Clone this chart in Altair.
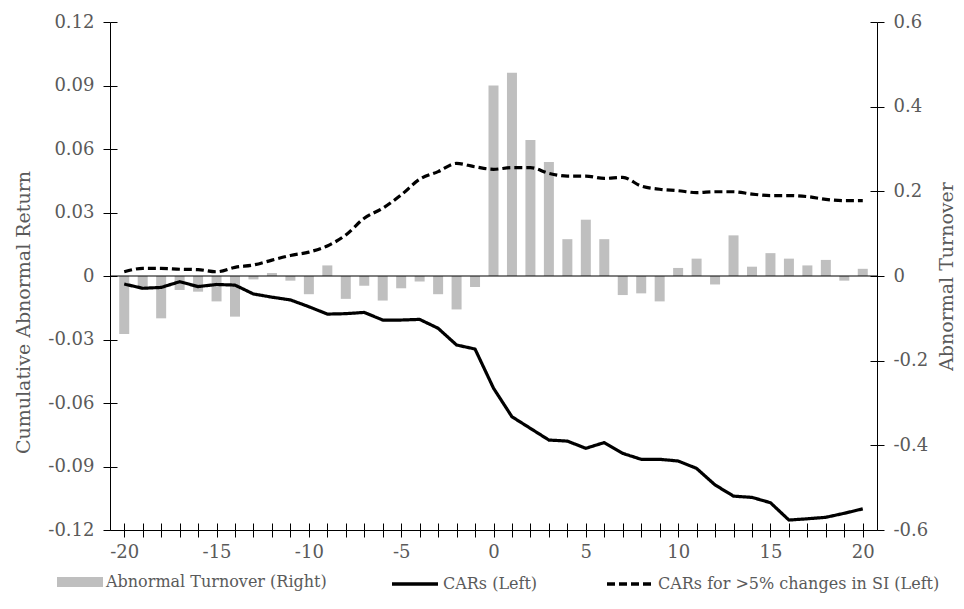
import altair as alt
import pandas as pd

days = list(range(-20, 21))

turnover = [-0.137, -0.025, -0.100, -0.033, -0.037, -0.060, -0.096, -0.008, 0.007, -0.011,
            -0.043, 0.025, -0.054, -0.023, -0.058, -0.029, -0.013, -0.043, -0.079, -0.026,
            0.450, 0.480, 0.321, 0.269, 0.087, 0.133, 0.087, -0.045, -0.041, -0.060,
            0.019, 0.041, -0.020, 0.096, 0.022, 0.054, 0.041, 0.025, 0.038, -0.011, 0.017]

car = [-0.0038, -0.0058, -0.0054, -0.0027, -0.0050, -0.0040, -0.0043, -0.0085, -0.0100, -0.0113,
       -0.0145, -0.0180, -0.0178, -0.0172, -0.0208, -0.0208, -0.0205, -0.0247, -0.0326, -0.0345,
       -0.0530, -0.0665, -0.0720, -0.0775, -0.0780, -0.0814, -0.0787, -0.0838, -0.0866, -0.0866,
       -0.0874, -0.0909, -0.0987, -0.1040, -0.1046, -0.1071, -0.1153, -0.1147, -0.1140, -0.1121, -0.1100]

car5 = [0.0020, 0.0036, 0.0036, 0.0032, 0.0030, 0.0020, 0.0041, 0.0052, 0.0075, 0.0097,
        0.0113, 0.0142, 0.0194, 0.0273, 0.0320, 0.0383, 0.0457, 0.0493, 0.0532, 0.0516,
        0.0504, 0.0512, 0.0512, 0.0485, 0.0472, 0.0472, 0.0461, 0.0466, 0.0425, 0.0410,
        0.0403, 0.0394, 0.0398, 0.0398, 0.0387, 0.0380, 0.0380, 0.0375, 0.0362, 0.0356, 0.0356]

left_ticks = [-0.12, -0.09, -0.06, -0.03, 0, 0.03, 0.06, 0.09, 0.12]
right_ticks = [-0.6, -0.4, -0.2, 0, 0.2, 0.4, 0.6]

bar_label = "Abnormal Turnover (Right)"
line_labels = ["CARs (Left)", "CARs for >5% changes in SI (Left)"]
left_title = "Cumulative Abnormal Return"
right_title = "Abnormal Turnover"

df = pd.DataFrame({"day": days, "turnover": turnover, "car": car, "car5": car5})
zero_df = pd.DataFrame({"z": [0.0]})

FONT = "DejaVu Serif"
GRAY = "#5a5a5a"
MINUS = "\u2212"

x_scale = alt.Scale(domain=[-20.5, 20.5], nice=False)
left_scale = alt.Scale(domain=[-0.12, 0.12], nice=False)
right_scale = alt.Scale(domain=[-0.6, 0.6], nice=False)

# main axes (outer half of each tick, labels, titles)
x_axis = alt.Axis(values=days, title=None, tickSize=7, labelPadding=6,
                  labelExpr="datum.value % 5 === 0 ? '' + datum.value : ''",
                  labelOverlap=False, labelFlush=False)
left_axis = alt.Axis(orient="left", values=left_ticks, title=left_title, tickSize=7,
                     labelPadding=9, titlePadding=14, titleY=290,
                     labelExpr=f"datum.value === 0 ? '0' : replace(format(datum.value, '.2f'), '{MINUS}', '-')")
right_axis = alt.Axis(orient="right", values=right_ticks, title=right_title, tickSize=7,
                      labelPadding=9, titlePadding=10, titleAngle=270, titleBaseline="top",
                      labelExpr=f"datum.value === 0 ? '0' : replace(format(datum.value, '.1f'), '{MINUS}', '-')")

# tick-only axes from the opposite side, giving the inner half of each tick
x_inner = alt.Axis(orient="top", values=days, title=None, tickSize=7, offset=-508,
                   labels=False, domain=False, grid=False)
left_inner = alt.Axis(orient="right", values=left_ticks, title=None, tickSize=7, offset=-767,
                      labels=False, domain=False)
right_inner = alt.Axis(orient="left", values=right_ticks, title=None, tickSize=7, offset=-767,
                       labels=False, domain=False)

bar_legend = alt.Legend(title=None, orient="none", legendX=-53, legendY=537,
                        symbolType="M-1,-0.22H1V0.22H-1Z", symbolSize=2116,
                        symbolStrokeWidth=0, labelOffset=3, padding=0, labelLimit=0)
line_legend = alt.Legend(title=None, orient="none", direction="horizontal",
                         legendX=280, legendY=537, symbolType="stroke", symbolSize=2116,
                         symbolStrokeWidth=3.5, symbolStrokeColor="black",
                         labelOffset=3, columnPadding=62, padding=0, labelLimit=0)

dash_scale = alt.Scale(domain=line_labels, range=[[1, 0], [8, 4]])

bars = alt.Chart(df).transform_calculate(s=f"'{bar_label}'").mark_bar(
    size=10, orient="vertical"
).encode(
    x=alt.X("day:Q", scale=x_scale, axis=x_axis),
    y=alt.Y("turnover:Q", scale=right_scale, axis=right_axis),
    y2=alt.Y2Datum(0),
    color=alt.Color("s:N", scale=alt.Scale(domain=[bar_label], range=["#bfbfbf"]),
                    legend=bar_legend),
)

zero_rule = alt.Chart(zero_df).mark_rule(color="black", strokeWidth=1).encode(
    y=alt.Y("z:Q", scale=right_scale, axis=right_inner)
)

line_car = alt.Chart(df).transform_calculate(s=f"'{line_labels[0]}'").mark_line(
    color="black", strokeWidth=3.2, strokeJoin="round"
).encode(
    x=alt.X("day:Q", scale=x_scale, axis=x_inner),
    y=alt.Y("car:Q", scale=left_scale, axis=left_axis),
    strokeDash=alt.StrokeDash("s:N", scale=dash_scale, legend=line_legend),
)

line_car5 = alt.Chart(df).transform_calculate(s=f"'{line_labels[1]}'").mark_line(
    color="black", strokeWidth=3.2, interpolate="monotone"
).encode(
    x=alt.X("day:Q", scale=x_scale, axis=None),
    y=alt.Y("car5:Q", scale=left_scale, axis=left_inner),
    strokeDash=alt.StrokeDash("s:N", scale=dash_scale, legend=line_legend),
)

chart = alt.layer(bars, zero_rule, line_car, line_car5).resolve_scale(
    y="independent"
).resolve_axis(
    x="independent", y="independent"
).properties(
    width=767, height=508,
    autosize=alt.AutoSizeParams(type="none"),
    padding={"left": 102, "top": 14, "right": 79, "bottom": 66},
).configure_view(stroke=None).configure_axis(
    grid=False, domainColor="black", tickColor="black", domainWidth=1, tickWidth=1,
    labelFont=FONT, labelFontSize=18, labelColor=GRAY,
    titleFont=FONT, titleFontSize=19, titleColor=GRAY, titleFontWeight="normal",
).configure_legend(
    labelFont=FONT, labelFontSize=16, labelColor=GRAY,
)

chart.save("out.html", embed_options={"renderer": "svg", "actions": False})
